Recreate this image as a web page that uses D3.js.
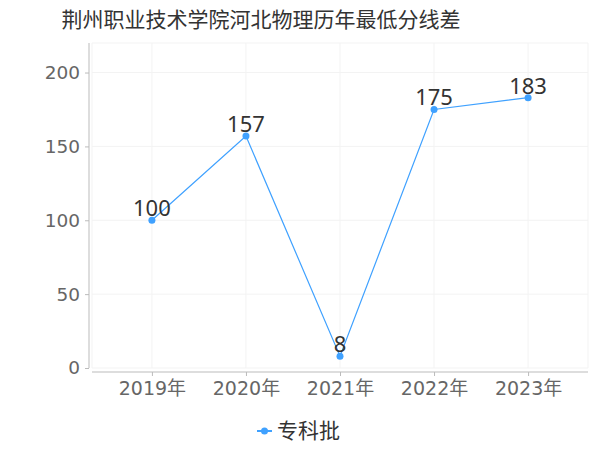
<!DOCTYPE html>
<html><head><meta charset="utf-8">
<script src="https://cdn.jsdelivr.net/npm/d3@7"></script>
<style>body{margin:0;background:#fff}svg{display:block}</style>
</head><body>
<svg id="c" width="600" height="450"></svg>
<script>
const title = "荆州职业技术学院河北物理历年最低分线差";
const categories = ["2019年","2020年","2021年","2022年","2023年"];
const seriesName = "专科批";
const values = [100,157,8,175,183];
const yTicks = [0,50,100,150,200];

const svg = d3.select("#c");
const L = 92, R = 588, T = 43, B = 368;
const color = "#3fa1ff";
const x = d3.scalePoint().domain(categories).range([L, R]).padding(0.637);
const y = d3.scaleLinear().domain([0, 220]).range([B, T]);

svg.append("text").attr("x", 261).attr("y", 27).attr("text-anchor", "middle")
  .attr("font-family", "'Noto Sans CJK SC', sans-serif").attr("font-size", 21)
  .attr("fill", "#333").text(title);

// grid
const g = svg.append("g");
g.selectAll(".hg").data(yTicks.concat([220])).join("line")
  .attr("x1", L).attr("x2", R).attr("y1", d => y(d)).attr("y2", d => y(d))
  .attr("stroke", "#f3f3f3").attr("stroke-width", 1);
g.selectAll(".vg").data(categories).join("line")
  .attr("x1", d => x(d)).attr("x2", d => x(d)).attr("y1", T).attr("y2", B)
  .attr("stroke", "#f3f3f3");
g.append("line").attr("x1", L).attr("x2", L).attr("y1", T).attr("y2", B).attr("stroke", "#f3f3f3");
g.append("line").attr("x1", R).attr("x2", R).attr("y1", T).attr("y2", B).attr("stroke", "#f3f3f3");

// y axis
const ya = svg.append("g").attr("transform", `translate(${L-3},0)`)
  .call(d3.axisLeft(y).tickValues(yTicks).tickSize(4).tickPadding(5));
ya.select(".domain").attr("d", `M0,${T}V${B}`).attr("stroke", "#bbb");
ya.selectAll(".tick line").attr("stroke", "#bbb");
ya.selectAll("text").attr("font-family", "'DejaVu Sans', sans-serif").attr("font-size", 18.5).attr("fill", "#666");

// x axis
const xa = svg.append("g").attr("transform", `translate(0,${B+4})`)
  .call(d3.axisBottom(x).tickSize(4).tickPadding(6));
xa.select(".domain").attr("d", `M${L},0H${R}`).attr("stroke", "#bbb");
xa.selectAll(".tick line").attr("stroke", "#bbb");
xa.selectAll("text").attr("font-family", "'DejaVu Sans', 'Noto Sans CJK SC', sans-serif").attr("font-size", 19).attr("fill", "#666");

// line
const pts = categories.map((c, i) => [x(c), y(values[i])]);
svg.append("path").attr("d", d3.line()(pts)).attr("fill", "none").attr("stroke", color).attr("stroke-width", 1.2);
svg.selectAll(".pt").data(values).join("circle")
  .attr("cx", (d, i) => x(categories[i])).attr("cy", d => y(d)).attr("r", 3.5).attr("fill", color);
svg.selectAll(".lbl").data(values).join("text")
  .attr("x", (d, i) => x(categories[i])).attr("y", d => y(d) - 4)
  .attr("text-anchor", "middle").attr("font-family", "'Noto Sans', sans-serif")
  .attr("font-size", 22).attr("fill", "#333").text(d => d);

// legend
const lg = svg.append("g");
lg.append("line").attr("x1", 257).attr("x2", 272).attr("y1", 431).attr("y2", 431).attr("stroke", color).attr("stroke-width", 2);
lg.append("circle").attr("cx", 264.5).attr("cy", 431).attr("r", 3.5).attr("fill", color);
lg.append("text").attr("x", 277).attr("y", 431).attr("dy", "0.35em")
  .attr("font-family", "'Noto Sans CJK SC', sans-serif").attr("font-size", 21).attr("fill", "#333").text(seriesName);
</script>
</body></html>
